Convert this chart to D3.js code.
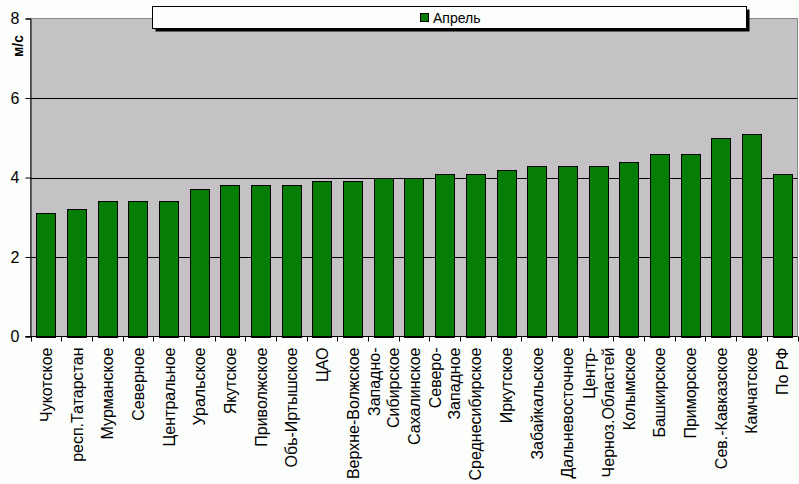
<!DOCTYPE html>
<html>
<head>
<meta charset="utf-8">
<script src="https://cdn.jsdelivr.net/npm/d3@7"></script>
<style>
  body { margin: 0; background: #fcfefc; }
  svg { display: block; font-family: "Liberation Sans", Arial, sans-serif; }
</style>
</head>
<body>
<svg class="chart" width="799" height="484"></svg>
<script>
// regions (multi-line labels split by "\n")
const regions = ["Чукотское", "респ.Татарстан", "Мурманское", "Северное", "Центральное",
  "Уральское", "Якутское", "Приволжское", "Обь-Иртышское", "ЦАО", "Верхне-Волжское",
  "Западно-\nСибирское", "Сахалинское", "Северо-\nЗападное", "Среднесибирское", "Иркутское",
  "Забайкальское", "Дальневосточное", "Центр-\nЧерноз.Областей", "Колымское", "Башкирское",
  "Приморское", "Сев.-Кавказское", "Камчатское", "По РФ"]
const april = [3.1, 3.2, 3.4, 3.4, 3.4, 3.7, 3.8, 3.8, 3.8, 3.9, 3.9, 4.0, 4.0, 4.1, 4.1,
  4.2, 4.3, 4.3, 4.3, 4.4, 4.6, 4.6, 5.0, 5.1, 4.1]
const yTicks = [0, 2, 4, 6, 8]
const seriesName = "Апрель"
const unitLabel = "м/с"

const plot = {left: 30.5, top: 18.5, right: 797.5, bottom: 336.5}
const svg = d3.select(".chart")

let x = d3.scaleBand()
    .domain(d3.range(regions.length))
    .range([plot.left, plot.right])
    .paddingInner(0.38)
    .paddingOuter(0.19)
let y = d3.scaleLinear()
    .domain([0, 8])
    .range([plot.bottom, plot.top])

// plot background
svg.append("rect")
    .attr("x", plot.left).attr("y", plot.top)
    .attr("width", plot.right - plot.left).attr("height", plot.bottom - plot.top)
    .attr("fill", "#c4c2c4")
    .attr("stroke", "#8a888a")

// gridlines
svg.selectAll(".grid")
    .data(yTicks.filter(d => d > 0 && d < 8))
    .enter().append("line")
    .attr("x1", plot.left).attr("x2", plot.right)
    .attr("y1", d => Math.round(y(d)) + 0.5).attr("y2", d => Math.round(y(d)) + 0.5)
    .attr("stroke", "#000")

// bars
svg.selectAll(".bar")
    .data(april)
    .enter().append("rect")
    .attr("x", (d, i) => Math.round(x(i)) + 0.5)
    .attr("y", d => Math.round(y(d)) + 0.5)
    .attr("width", Math.round(x.bandwidth()))
    .attr("height", d => Math.round(y(0)) - Math.round(y(d)))
    .attr("fill", "#067e06")
    .attr("stroke", "#000")

// y axis
let yAxis = d3.axisLeft(y).tickValues(yTicks).tickSize(5).tickPadding(6)
let yg = svg.append("g")
    .attr("transform", "translate(" + plot.left + ",0)")
    .call(yAxis)
yg.select(".domain").attr("stroke", "#000")
yg.selectAll(".tick line").attr("stroke", "#000")
yg.selectAll(".tick text")
    .style("font-size", "16px").attr("fill", "#000")
    .attr("font-family", "Liberation Sans, Arial, sans-serif")

// x axis line and ticks at band edges
svg.append("line")
    .attr("x1", plot.left - 5).attr("x2", plot.right)
    .attr("y1", plot.bottom).attr("y2", plot.bottom)
    .attr("stroke", "#000")
let step = x.step()
svg.selectAll(".xtick")
    .data(d3.range(regions.length + 1))
    .enter().append("line")
    .attr("x1", i => Math.round(x(0) - x.step() * x.paddingInner() / 2 + i * step) + 0.5)
    .attr("x2", i => Math.round(x(0) - x.step() * x.paddingInner() / 2 + i * step) + 0.5)
    .attr("y1", plot.bottom).attr("y2", plot.bottom + 5)
    .attr("stroke", "#000")

// x labels, rotated
const lineGap = 19
let labels = svg.selectAll(".xlabel")
    .data(regions)
    .enter().append("text")
    .attr("text-anchor", "end")
    .style("font-size", "16px")
    .attr("fill", "#000")
    .attr("transform", (d, i) => {
      let cx = x(i) + x.bandwidth() / 2
      return "translate(" + cx + "," + (plot.bottom + 11) + ") rotate(-90)"
    })
labels.each(function(d) {
  let lines = d.split("\n")
  let t = d3.select(this)
  lines.forEach((ln, k) => {
    let off = (k - (lines.length - 1) / 2) * lineGap + 6
    t.append("tspan").attr("x", 0).attr("y", off).text(ln)
  })
})

// unit label
svg.append("text")
    .attr("transform", "translate(23,46) rotate(-90)")
    .attr("text-anchor", "middle")
    .style("font-size", "14px")
    .style("font-weight", "bold")
    .text(unitLabel)

// legend
let lg = svg.append("g")
lg.append("rect").attr("x", 155.5).attr("y", 9.5).attr("width", 594).attr("height", 22).attr("fill", "#000")
lg.append("rect").attr("x", 152.5).attr("y", 6.5).attr("width", 594).attr("height", 22)
    .attr("fill", "#fcfefc").attr("stroke", "#000")
lg.append("rect").attr("x", 420.5).attr("y", 13.5).attr("width", 8).attr("height", 8)
    .attr("fill", "#067e06").attr("stroke", "#000")
lg.append("text").attr("x", 433).attr("y", 22.5)
    .style("font-size", "14px")
    .text(seriesName)
</script>
</body>
</html>
